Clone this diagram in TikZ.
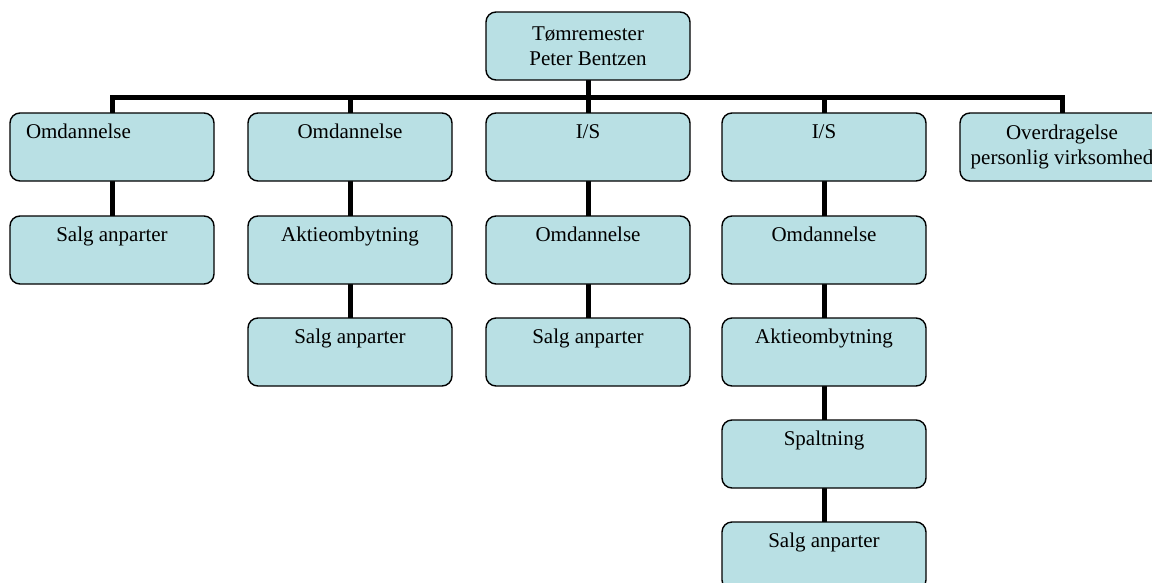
\documentclass[tikz,border=0pt]{standalone}
\usepackage{fontspec}
\setmainfont{Liberation Serif}
\definecolor{boxfill}{RGB}{185,224,228}
\pgfdeclarelayer{bg}
\pgfsetlayers{bg,main}
\tikzset{
  unit/.style={draw=black, line width=1.4pt, fill=boxfill, rounded corners=10pt,
    minimum width=204pt, minimum height=68pt, inner sep=0pt, outer sep=0pt,
    font=\fontsize{21}{25}\selectfont},
  topline/.style={unit, text height=25pt, text depth=43pt},
  twoline/.style={unit, align=center},
  link/.style={line width=5pt, line join=miter}
}
\begin{document}
\begin{tikzpicture}[x=1pt, y=-1pt]
\clip (0,0) rectangle (1152,582);
% head of the chart
\node[twoline] (top) at (588,46) {Tømremester\\Peter Bentzen};
% first column
\node[topline, text width=172pt, align=left] (a1) at (112,147) {Omdannelse};
\node[topline] (b1) at (112,250) {Salg anparter};
% second column
\node[topline] (a2) at (350,147) {Omdannelse};
\node[topline] (b2) at (350,250) {Aktieombytning};
\node[topline] (c2) at (350,352) {Salg anparter};
% third column
\node[topline] (a3) at (588,147) {I/S};
\node[topline] (b3) at (588,250) {Omdannelse};
\node[topline] (c3) at (588,352) {Salg anparter};
% fourth column
\node[topline] (a4) at (824,147) {I/S};
\node[topline] (b4) at (824,250) {Omdannelse};
\node[topline] (c4) at (824,352) {Aktieombytning};
\node[topline] (d4) at (824,454) {Spaltning};
\node[topline] (e4) at (824,556) {Salg anparter};
% fifth column
\node[twoline] (a5) at (1062,147) {Overdragelse\\personlig virksomhed};
\begin{pgfonlayer}{bg}
  % horizontal bus and drops
  \draw[link] (a1.north) -- ++(0,-16) coordinate (bus) -- (bus -| a5.north) -- (a5.north);
  \draw[link] (top.south) -- (top.south |- bus);
  \foreach \n in {a2,a3,a4} \draw[link] (\n.north) -- (\n.north |- bus);
  % vertical chains
  \draw[link] (a1.south) -- (b1.north);
  \draw[link] (a2.south) -- (b2.north);
  \draw[link] (b2.south) -- (c2.north);
  \draw[link] (a3.south) -- (b3.north);
  \draw[link] (b3.south) -- (c3.north);
  \draw[link] (a4.south) -- (b4.north);
  \draw[link] (b4.south) -- (c4.north);
  \draw[link] (c4.south) -- (d4.north);
  \draw[link] (d4.south) -- (e4.north);
\end{pgfonlayer}
\end{tikzpicture}
\end{document}
